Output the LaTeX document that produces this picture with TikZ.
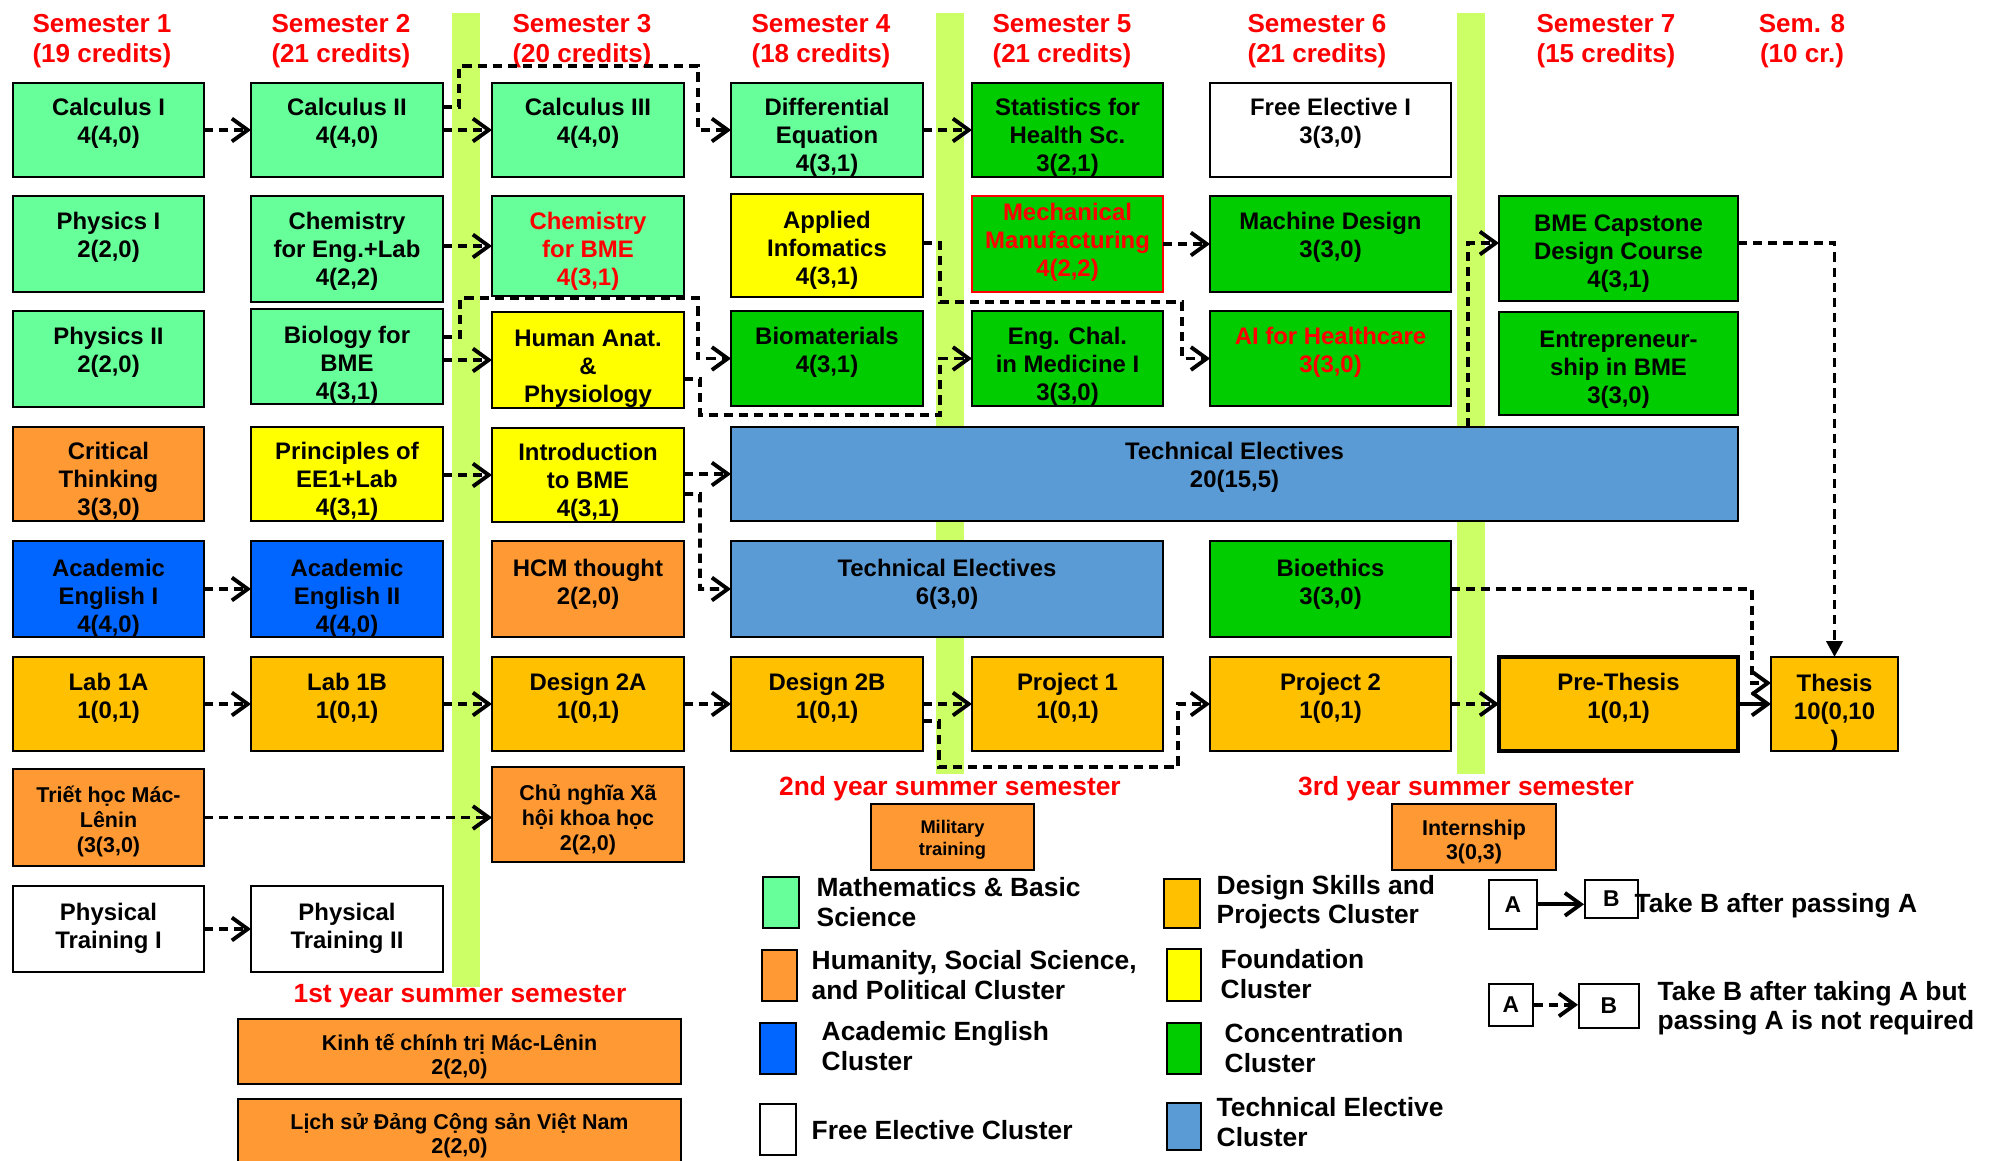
\documentclass[tikz,border=0pt]{standalone}
\usepackage{fontspec}
\setmainfont{Liberation Sans}
\usetikzlibrary{arrows.meta,calc}
\definecolor{mathg}{HTML}{66FF99}
\definecolor{conc}{HTML}{00CC00}
\definecolor{yel}{HTML}{FFFF00}
\definecolor{hum}{HTML}{FF9933}
\definecolor{des}{HTML}{FFC000}
\definecolor{aeng}{HTML}{0066FF}
\definecolor{tech}{HTML}{5B9BD5}
\definecolor{barc}{HTML}{CCFF66}
\definecolor{hred}{HTML}{FF0000}
\newcommand\course[9][24]{%
  \node[box,#7,anchor=north west,minimum width={(#5-#3)*0.01cm},minimum height={(#6-#4)*0.01cm}] (#2) at (#3,#4) {};
  \begin{scope}
  \clip (#2.south west) rectangle (#2.north east);
  \node[ctext,#8,anchor=north] (#2-t) at ([yshift={-(#1-9.4)*0.01cm}]#2.north) {\rule{0pt}{5.1pt}#9};
  \end{scope}
}
\begin{document}
\begin{tikzpicture}[x=0.01cm,y=-0.01cm,
  box/.style={draw=black,line width=0.6pt,rectangle,inner sep=0pt,outer sep=0pt},
  ctext/.style={font=\fontsize{6.8}{8}\selectfont\bfseries,align=center,inner sep=0pt},
  vtext/.style={font=\fontsize{6.1}{7.2}\selectfont\bfseries},
  hdr/.style={text=hred,font=\fontsize{7.4}{8.5}\selectfont\bfseries,align=center,inner sep=0pt},
  sumlbl/.style={text=hred,font=\fontsize{7.5}{8.5}\selectfont\bfseries,inner sep=0pt},
  lgtext/.style={font=\fontsize{7.5}{8.3}\selectfont\bfseries,align=left,inner sep=0pt,anchor=west},
  lgsq/.style={draw=black,line width=0.6pt},
  dep/.style={line width=1.1pt,dash pattern=on 2.6pt off 1.7pt,-{Straight Barb[length=4.5pt,width=6.5pt]}},
  req/.style={line width=1.1pt,-{Straight Barb[length=4.5pt,width=6.5pt]}},
  deptri/.style={line width=1.1pt,dash pattern=on 2.6pt off 1.7pt,-{Triangle[length=4.5pt,width=4.5pt]}},
  abox/.style={draw=black,line width=0.45pt,fill=white,inner sep=0pt,font=\fontsize{6.5}{7}\selectfont\bfseries}
]
\useasboundingbox (0,0) rectangle (1997,1160);
\clip (0,0) rectangle (1997,1160);
\fill[white] (0,0) rectangle (1997,1160);

% summer bars
\fill[barc] (452,13) rectangle (480,987);
\fill[barc] (936,13) rectangle (964,774);
\fill[barc] (1457,13) rectangle (1485,774);

% headers
\node[hdr] (h1) at (102,41) {Semester 1\\(19 credits)};
\node[hdr] (h2) at (341,41) {Semester 2\\(21 credits)};
\node[hdr] (h3) at (582,41) {Semester 3\\(20 credits)};
\node[hdr] (h4) at (821,41) {Semester 4\\(18 credits)};
\node[hdr] (h5) at (1062,41) {Semester 5\\(21 credits)};
\node[hdr] (h6) at (1317,41) {Semester 6\\(21 credits)};
\node[hdr] (h7) at (1606,41) {Semester 7\\(15 credits)};
\node[hdr] (h8) at (1802,41) {Sem. 8\\(10 cr.)};

% row 1
\course[23]{calc1}{13}{83}{204}{177}{fill=mathg}{}{Calculus I\\4(4,0)}
\course[23]{calc2}{251}{83}{443}{177}{fill=mathg}{}{Calculus II\\4(4,0)}
\course[23]{calc3}{492}{83}{684}{177}{fill=mathg}{}{Calculus III\\4(4,0)}
\course[23]{diffeq}{731}{83}{923}{177}{fill=mathg}{}{Differential\\Equation\\4(3,1)}
\course[23]{stats}{972}{83}{1163}{177}{fill=conc}{}{Statistics for\\Health Sc.\\3(2,1)}
\course[23]{free1}{1210}{83}{1451}{177}{fill=white}{}{Free Elective I\\3(3,0)}
% row 2
\course{phys1}{13}{196}{204}{292}{fill=mathg}{}{Physics I\\2(2,0)}
\course{chemeng}{251}{196}{443}{302}{fill=mathg}{}{Chemistry\\for Eng.+Lab\\4(2,2)}
\course{chembme}{492}{196}{684}{296}{fill=mathg}{text=hred}{Chemistry\\for BME\\4(3,1)}
\course[25]{appinf}{731}{194}{923}{297}{fill=yel}{}{Applied\\Infomatics\\4(3,1)}
\course[15]{mech}{972}{196}{1163}{292}{fill=conc,draw=hred}{text=hred}{Mechanical\\Manufacturing\\4(2,2)}
\course{machine}{1210}{196}{1451}{292}{fill=conc}{}{Machine Design\\3(3,0)}
\course[26]{capstone}{1499}{196}{1738}{301}{fill=conc}{}{BME Capstone\\Design Course\\4(3,1)}
% row 3
\course{phys2}{13}{311}{204}{407}{fill=mathg}{}{Physics II\\2(2,0)}
\course[25]{bio}{251}{309}{443}{404}{fill=mathg}{}{Biology for\\BME\\4(3,1)}
\course[25]{human}{492}{312}{684}{408}{fill=yel}{}{Human Anat.\\\&\\Physiology}
\course{biomat}{731}{311}{923}{406}{fill=conc}{}{Biomaterials\\4(3,1)}
\course{engchal}{972}{311}{1163}{406}{fill=conc}{}{Eng. Chal.\\in Medicine I\\3(3,0)}
\course{ai}{1210}{311}{1451}{406}{fill=conc}{text=hred}{AI for Healthcare\\3(3,0)}
\course[26]{entre}{1499}{312}{1738}{415}{fill=conc}{}{Entrepreneur-\\ship in BME\\3(3,0)}
% row 4
\course[23]{crit}{13}{427}{204}{521}{fill=hum}{}{Critical\\Thinking\\3(3,0)}
\course[23]{princ}{251}{427}{443}{521}{fill=yel}{}{Principles of\\EE1+Lab\\4(3,1)}
\course[23]{intro}{492}{428}{684}{522}{fill=yel}{}{Introduction\\to BME\\4(3,1)}
\course[23]{te20}{731}{427}{1738}{521}{fill=tech}{}{Technical Electives\\20(15,5)}
% row 5
\course[26]{aeng1}{13}{541}{204}{637}{fill=aeng}{}{Academic\\English I\\4(4,0)}
\course[26]{aeng2}{251}{541}{443}{637}{fill=aeng}{}{Academic\\English II\\4(4,0)}
\course[26]{hcm}{492}{541}{684}{637}{fill=hum}{}{HCM thought\\2(2,0)}
\course[26]{te6}{731}{541}{1163}{637}{fill=tech}{}{Technical Electives\\6(3,0)}
\course[26]{bioeth}{1210}{541}{1451}{637}{fill=conc}{}{Bioethics\\3(3,0)}
% row 6
\course{lab1a}{13}{657}{204}{751}{fill=des}{}{Lab 1A\\1(0,1)}
\course{lab1b}{251}{657}{443}{751}{fill=des}{}{Lab 1B\\1(0,1)}
\course{des2a}{492}{657}{684}{751}{fill=des}{}{Design 2A\\1(0,1)}
\course{des2b}{731}{657}{923}{751}{fill=des}{}{Design 2B\\1(0,1)}
\course{proj1}{972}{657}{1163}{751}{fill=des}{}{Project 1\\1(0,1)}
\course{proj2}{1210}{657}{1451}{751}{fill=des}{}{Project 2\\1(0,1)}
\course{prethesis}{1499}{657}{1738}{751}{fill=des,line width=1.3pt}{}{Pre-Thesis\\1(0,1)}
\course[25]{thesis}{1771}{657}{1898}{751}{fill=des}{}{Thesis\\10(0,10\\)}
% row 7
\course{triet}{13}{769}{204}{866}{fill=hum}{vtext}{Triết học Mác-\\Lênin\\(3(3,0)}
\course{cnxh}{492}{767}{684}{862}{fill=hum}{vtext}{Chủ nghĩa Xã\\hội khoa học\\2(2,0)}
% row 8
\course[25]{pt1}{13}{886}{204}{972}{fill=white}{}{Physical\\Training I}
\course[25]{pt2}{251}{886}{443}{972}{fill=white}{}{Physical\\Training II}

% summer semesters
\node[sumlbl] (s1) at (460,996) {1st year summer semester};
\node[sumlbl] (s2) at (950,789) {2nd year summer semester};
\node[sumlbl] (s3) at (1466,789) {3rd year summer semester};
\course[20]{military}{871}{804}{1034}{870}{fill=hum}{font=\fontsize{5.2}{6.3}\selectfont\bfseries}{Military\\training}
\course[22]{intern}{1392}{804}{1556}{870}{fill=hum}{font=\fontsize{6.1}{6.8}\selectfont\bfseries}{Internship\\3(0,3)}
\course[22]{kinhte}{238}{1019}{681}{1084}{fill=hum}{font=\fontsize{6.1}{6.8}\selectfont\bfseries}{Kinh tế chính trị Mác-Lênin\\2(2,0)}
\course[21]{lichsu}{238}{1099}{681}{1180}{fill=hum}{font=\fontsize{6.1}{6.8}\selectfont\bfseries}{Lịch sử Đảng Cộng sản Việt Nam\\2(2,0)}

% connectors
\draw[dep] (calc1) -- (calc2);
\draw[dep] (calc2) -- (calc3);
\draw[dep] ([yshift=-0.24cm]calc2.north east) -| (459,66) -- (698,66) |- (diffeq.west);
\draw[dep] (chemeng.east |- chembme.west) -- (chembme.west);
\draw[dep] (bio.east |- human.west) -- (human.west);
\draw[dep] ([yshift=-0.28cm]bio.north east) -| (460,298) -- (698,298) |- (biomat.west);
\draw[dep] ([yshift=-0.67cm]human.north east) -| (700,415) -- (940,415) |- (engchal.west);
\draw[dep] ([yshift=-0.49cm]appinf.north east) -| (940,302) -- (1182,302) |- (ai.west);
\draw[dep] (diffeq) -- (stats);
\draw[dep] (mech) -- (machine);
\draw[dep] (princ.east |- intro.west) -- (intro.west);
\draw[dep] (intro.east |- te20.west) -- (te20.west);
\draw[dep] ([yshift=-0.66cm]intro.north east) -- (700,494) |- (te6.west);
\draw[dep] (aeng1) -- (aeng2);
\draw[dep] (lab1a) -- (lab1b);
\draw[dep] (lab1b) -- (des2a);
\draw[dep] (des2a) -- (des2b);
\draw[dep] (des2b) -- (proj1);
\draw[dep] ([yshift=-0.64cm]des2b.north east) -| (939,767) -| (1178,730) |- (proj2.west);
\draw[dep] (proj2) -- (prethesis);
\draw[req] (prethesis) -- (thesis);
\draw[dep] (bioeth.east) -- (1752,589) |- ([yshift=-0.26cm]thesis.north west);
\draw[deptri] ([yshift=-0.47cm]capstone.north east) -| (thesis.north);
\coordinate (tecol) at (1468,0);
\draw[dep] (te20.north -| tecol) |- ([yshift=-0.47cm]capstone.north west);
\draw[dep] (triet.east) -- (triet.east -| cnxh.west);
\draw[dep] (pt1) -- (pt2);

% legend: clusters
\draw[lgsq,fill=mathg] (763,877) rectangle (799,928);
\node[lgtext] (lg1) at (816,902) {Mathematics \& Basic\\Science};
\draw[lgsq,fill=hum] (762,950) rectangle (797,1001);
\node[lgtext] (lg2) at (811,975) {Humanity, Social Science,\\and Political Cluster};
\draw[lgsq,fill=aeng] (760,1023) rectangle (796,1074);
\node[lgtext] (lg3) at (821,1046) {Academic English\\Cluster};
\draw[lgsq,fill=white] (760,1104) rectangle (796,1155);
\node[lgtext] (lg4) at (811,1130) {Free Elective Cluster};
\draw[lgsq,fill=des] (1164,879) rectangle (1200,928);
\node[lgtext] (lg5) at (1216,902) {Design Skills and\\Projects Cluster};
\draw[lgsq,fill=yel] (1167,949) rectangle (1201,1001);
\node[lgtext] (lg6) at (1220,974) {Foundation\\Cluster};
\draw[lgsq,fill=conc] (1167,1023) rectangle (1201,1074);
\node[lgtext] (lg7) at (1224,1048) {Concentration\\Cluster};
\draw[lgsq,fill=tech] (1167,1103) rectangle (1201,1150);
\node[lgtext] (lg8) at (1216,1122) {Technical Elective\\Cluster};

% legend: arrows
\node[abox,anchor=north west,minimum width=0.48cm,minimum height=0.49cm] (la1) at (1488,879) {A};
\node[abox,anchor=north west,minimum width=0.53cm,minimum height=0.38cm] (lb1) at (1584,879) {B};
\draw[req] (la1.east) -- (la1.east -| lb1.west);
\node[lgtext] (lt1) at (1634,906) {Take B after passing A};
\node[abox,anchor=north west,minimum width=0.44cm,minimum height=0.42cm] (la2) at (1488,983) {A};
\node[abox,anchor=north west,minimum width=0.60cm,minimum height=0.44cm] (lb2) at (1578,983) {B};
\draw[dep] (la2.east) -- (la2.east -| lb2.west);
\node[lgtext] (lt2) at (1657,1008) {Take B after taking A but\\passing A is not required};
\end{tikzpicture}
\end{document}
